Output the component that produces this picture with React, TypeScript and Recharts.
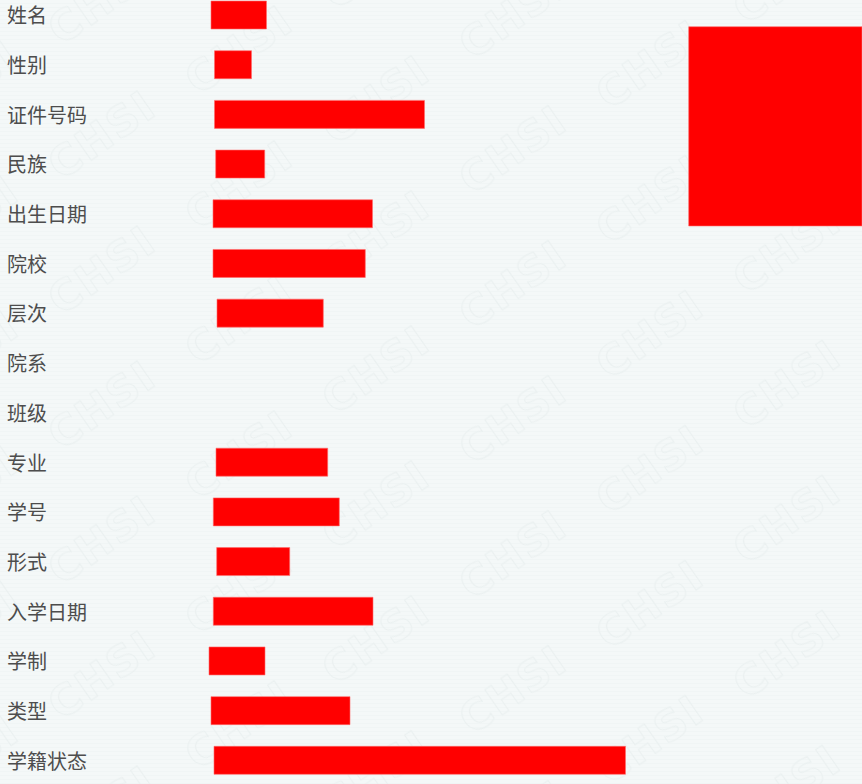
import React from "react";
import { BarChart, Bar, XAxis, YAxis, ReferenceArea, ScatterChart } from "recharts";

// Field labels (categories)
const fields = [
  "姓名", "性别", "证件号码", "民族", "出生日期", "院校", "层次", "院系",
  "班级", "专业", "学号", "形式", "入学日期", "学制", "类型", "学籍状态",
];
// Redaction bar start/end (horizontal units)
const barStart = [211, 214.5, 214.5, 215.7, 213, 213, 217, null, null, 216, 213.3, 216.7, 213.3, 209, 211, 214];
const barEnd = [266.5, 251.5, 424.5, 264.7, 372.5, 365.3, 323.3, null, null, 327.7, 339.3, 289.7, 373, 265, 350, 625.5];
// Photo redaction box: [x1, x2] and [y1, y2]
const photoX = [688.7, 862];
const photoY = [26.7, 226];

const data = fields.map((f, i) => ({
  field: f,
  range: barStart[i] == null ? null : [barStart[i], barEnd[i]],
}));

const LabelTick = (props: any) => {
  const { y, payload } = props;
  return (
    <text
      x={7}
      y={y}
      textAnchor="start"
      dominantBaseline="central"
      fill="#4d4d4d"
      fontSize={20}
      fontFamily="'Noto Sans CJK SC', 'Noto Sans', sans-serif"
    >
      {payload.value}
    </text>
  );
};

const Watermark = () => (
  <svg width={862} height={784} style={{ position: "absolute", left: 0, top: 0 }}>
    <defs>
      <pattern id="lines" width={4} height={4} patternUnits="userSpaceOnUse">
        <rect width={4} height={4} fill="#f4f8f8" />
        <rect y={3} width={4} height={1} fill="#f0f5f5" />
      </pattern>
      <pattern
        id="wm"
        width={137}
        height={135}
        patternUnits="userSpaceOnUse"
        patternTransform="translate(33.5 42.6) skewY(20)"
      >
        <g transform="translate(68.5 67.5) skewY(-20) rotate(-35)">
          <text
            x={0}
            y={0}
            textAnchor="middle"
            dominantBaseline="central"
            fontSize={42}
            fontWeight="bold"
            fontFamily="'DejaVu Sans', sans-serif"
            fill="none"
            stroke="#eaf0f0"
            strokeWidth={1}
            letterSpacing={2}
          >
            CHSI
          </text>
        </g>
      </pattern>
    </defs>
    <rect width={862} height={784} fill="url(#lines)" />
    <rect width={862} height={784} fill="url(#wm)" />
  </svg>
);

export default function App() {
  return (
    <div
      style={{
        position: "absolute",
        left: 0,
        top: 0,
        width: 862,
        height: 784,
        overflow: "hidden",
        background: "#f4f8f8",
      }}
    >
      <Watermark />
      <div style={{ position: "absolute", left: 0, top: -10 }}>
        <BarChart
          width={862}
          height={795}
          data={data}
          layout="vertical"
          margin={{ top: 0, right: 0, bottom: 0, left: 0 }}
          barCategoryGap={0}
        >
          <XAxis type="number" domain={[200, 862]} hide allowDataOverflow />
          <YAxis
            type="category"
            dataKey="field"
            width={200}
            axisLine={false}
            tickLine={false}
            tick={<LabelTick />}
            interval={0}
          />
          <Bar
            dataKey="range"
            fill="#ff0000"
            stroke="#ff6b6b"
            strokeWidth={0.6}
            barSize={28}
            isAnimationActive={false}
          />
        </BarChart>
      </div>
      <div style={{ position: "absolute", left: 0, top: -10, pointerEvents: "none" }}>
        <ScatterChart width={862} height={795} margin={{ top: 0, right: 0, bottom: 0, left: 0 }}>
          <XAxis type="number" dataKey="x" domain={[200, 862]} hide allowDataOverflow />
          <YAxis
            type="number"
            dataKey="y"
            domain={[-10, 785]}
            reversed
            width={200}
            tick={false}
            axisLine={false}
            tickLine={false}
            allowDataOverflow
          />
          <ReferenceArea
            x1={photoX[0]}
            x2={photoX[1]}
            y1={photoY[0]}
            y2={photoY[1]}
            fill="#ff0000"
            fillOpacity={1}
            stroke="#ff6b6b"
            strokeWidth={0.6}
            ifOverflow="visible"
          />
        </ScatterChart>
      </div>
    </div>
  );
}
